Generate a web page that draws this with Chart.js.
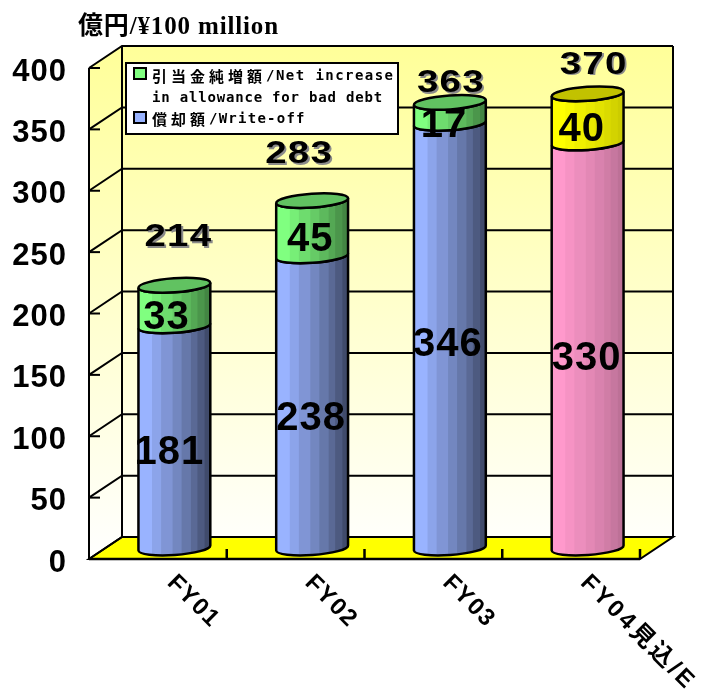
<!DOCTYPE html>
<html>
<head>
<meta charset="utf-8">
<style>
  html, body { margin: 0; padding: 0; background: #fff; overflow: hidden; }
  canvas { display: block; }
</style>
<script src="https://cdn.jsdelivr.net/npm/chart.js@4"></script>
</head>
<body>
<canvas id="chart" width="703" height="690"></canvas>
<script>
// values
const categories = ["FY01", "FY02", "FY03", "FY04見込/E"];
const writeOff = [181, 238, 346, 330];
const allowance = [33, 45, 17, 40];
const totals = [214, 283, 363, 370];
const writeOffColors = ["#99B3FF", "#99B3FF", "#99B3FF", "#FF99CC"];
const allowanceColors = ["#80FF80", "#80FF80", "#80FF80", "#FFFF00"];
const titleText = "億円/¥100 million";
const legendLines = ["引当金純増額/Net increase", "in allowance for bad debt", "償却額/Write-off"];
const legendLatinSpacing = [1.45, 0.81, 1.25];

// the fake 3d look
const depthX = 33, depthY = 22;
const ellipseRy = 7, tilt = -0.07;
const stripEdges = [0, .19, .316, .475, .6, .73, .82, .92, 1];
const darkest = { "#99B3FF": .42, "#80FF80": .52, "#FF99CC": .74, "#FFFF00": .8 };
const capShade = .76;

// hand placed labels, same as in the original (dx, dy from the segment or bar top)
const segmentNudgeLow = [[-5, 5], [-1, 6], [-2, -2], [-1, 3]];
const segmentNudgeHigh = [[-8, 1], [-2, 1], [-6, 2], [-6, 1]];
const totalNudge = [[4, -59], [-13, -57], [1, -30], [6, -40]];

function shade(hex, f) {
  const n = parseInt(hex.slice(1), 16);
  const c = [n >> 16, (n >> 8) & 255, n & 255].map(v => Math.round(v * f));
  return `rgb(${c[0]},${c[1]},${c[2]})`;
}

function bodyPath(ctx, x, top, bottom, r) {
  ctx.beginPath();
  ctx.ellipse(x, bottom, r, ellipseRy, tilt, Math.PI, 0, true);
  ctx.ellipse(x, top, r, ellipseRy, tilt, 0, Math.PI, false);
  ctx.closePath();
}

function drawSegment(ctx, el, color, isTop) {
  const x = el.x + depthX / 2, r = el.width / 2;
  const top = el.y - depthY / 2, bottom = el.base - depthY / 2;
  ctx.save();
  bodyPath(ctx, x, top, bottom, r);
  ctx.save();
  ctx.clip();
  // vertical strips fake the shading of the round side
  for (let i = 0; i < stripEdges.length - 1; i++) {
    const t = i / (stripEdges.length - 2);
    ctx.fillStyle = shade(color, 1 - t * (1 - darkest[color]));
    const x0 = x - r + stripEdges[i] * el.width;
    ctx.fillRect(x0, top - 20, (stripEdges[i + 1] - stripEdges[i]) * el.width + 1, bottom - top + 50);
  }
  ctx.restore();
  ctx.lineWidth = 2.5;
  ctx.strokeStyle = "#000";
  ctx.stroke();
  if (isTop) {
    ctx.beginPath();
    ctx.ellipse(x, top, r, ellipseRy, tilt, 0, Math.PI * 2);
    ctx.fillStyle = shade(color, capShade);
    ctx.fill();
    ctx.stroke();
  }
  ctx.restore();
}

// wide, stretched numbers like the ones in the original
function drawNumber(ctx, text, x, y, size, stretch, shadow) {
  ctx.save();
  ctx.translate(x, y);
  ctx.scale(stretch, 1);
  ctx.font = `bold ${size}px "Liberation Sans"`;
  ctx.textAlign = "center";
  ctx.textBaseline = "middle";
  ctx.letterSpacing = "1px";
  if (shadow) {
    ctx.fillStyle = "#8a8a8a";
    ctx.fillText(text, 1.5, 1.5);
  }
  ctx.fillStyle = "#000";
  ctx.fillText(text, 0, 0);
  ctx.restore();
}

const cylinderPlugin = {
  id: "cylinders",
  beforeDraw(chart) {
    // spreads the y tick numbers a little
    chart.ctx.letterSpacing = "1px";
  },
  beforeDatasetsDraw(chart) {
    const { ctx, chartArea: a, scales: { x, y } } = chart;
    const bx = a.left + depthX, by = -depthY;
    ctx.save();
    // back wall and side wall, pale yellow going to white
    const g = ctx.createLinearGradient(0, a.top + by, 0, a.bottom);
    g.addColorStop(0, "#FFFF99");
    g.addColorStop(1, "#FFFFFF");
    ctx.fillStyle = g;
    ctx.fillRect(bx, a.top + by, a.right - a.left, a.bottom - a.top);
    ctx.beginPath();
    ctx.moveTo(a.left, a.top);
    ctx.lineTo(bx, a.top + by);
    ctx.lineTo(bx, a.bottom + by);
    ctx.lineTo(a.left, a.bottom);
    ctx.closePath();
    ctx.fill();
    // floor
    ctx.beginPath();
    ctx.moveTo(a.left, a.bottom);
    ctx.lineTo(bx, a.bottom + by);
    ctx.lineTo(a.right + depthX, a.bottom + by);
    ctx.lineTo(a.right, a.bottom);
    ctx.closePath();
    ctx.fillStyle = "#FFFF00";
    ctx.fill();
    ctx.strokeStyle = "#000";
    ctx.lineWidth = 2;
    ctx.stroke();
    // gridlines run along the side wall then along the back wall
    y.ticks.forEach((t, i) => {
      const py = y.getPixelForTick(i);
      ctx.beginPath();
      ctx.moveTo(a.left, py);
      ctx.lineTo(bx, py + by);
      ctx.lineTo(a.right + depthX, py + by);
      ctx.stroke();
      ctx.beginPath();
      ctx.moveTo(a.left, py);
      ctx.lineTo(a.left + 11, py);
      ctx.stroke();
    });
    // wall edges
    ctx.beginPath();
    ctx.moveTo(a.left, a.bottom);
    ctx.lineTo(a.left, a.top);
    ctx.moveTo(bx, a.bottom + by);
    ctx.lineTo(bx, a.top + by);
    ctx.moveTo(a.right + depthX, a.bottom + by);
    ctx.lineTo(a.right + depthX, a.top + by);
    ctx.stroke();
    // floor front edge with its ticks
    ctx.lineWidth = 2.5;
    ctx.beginPath();
    ctx.moveTo(a.left, a.bottom);
    ctx.lineTo(a.right, a.bottom);
    const step = (a.right - a.left) / categories.length;
    categories.forEach((c, i) => {
      ctx.moveTo(x.getPixelForTick(i) + step / 2, a.bottom);
      ctx.lineTo(x.getPixelForTick(i) + step / 2, a.bottom - 10);
    });
    ctx.stroke();
    ctx.restore();
  },
  // the plain flat bars are replaced, their geometry is used below
  beforeDatasetDraw() {
    return false;
  },
  afterDatasetsDraw(chart) {
    const { ctx, scales: { x } } = chart;
    const low = chart.getDatasetMeta(0).data;
    const high = chart.getDatasetMeta(1).data;
    categories.forEach((c, i) => {
      drawSegment(ctx, low[i], writeOffColors[i], false);
      drawSegment(ctx, high[i], allowanceColors[i], true);
    });
    categories.forEach((c, i) => {
      const l = low[i], h = high[i];
      drawNumber(ctx, String(writeOff[i]), l.x + depthX / 2 + segmentNudgeLow[i][0],
        (l.y + l.base) / 2 + segmentNudgeLow[i][1], 40, 1, false);
      drawNumber(ctx, String(allowance[i]), h.x + depthX / 2 + segmentNudgeHigh[i][0],
        (h.y + h.base) / 2 + segmentNudgeHigh[i][1], 40, 1, false);
      drawNumber(ctx, String(totals[i]), h.x + depthX / 2 + totalNudge[i][0],
        h.y + totalNudge[i][1], 32, 1.2, true);
    });

    // category labels, slanting downwards
    ctx.save();
    ctx.fillStyle = "#000";
    ctx.font = 'bold 24px "Liberation Sans","Noto Sans CJK JP"';
    ctx.textBaseline = "middle";
    categories.forEach((c, i) => {
      ctx.save();
      ctx.letterSpacing = c.length > 4 ? "3px" : "1.5px";
      ctx.translate(x.getPixelForTick(i) + 13, 579);
      ctx.rotate(Math.PI / 4);
      ctx.fillText(c, 0, 0);
      ctx.restore();
    });
    ctx.restore();

    // title
    ctx.save();
    ctx.fillStyle = "#000";
    ctx.font = 'bold 25px "Liberation Serif","Noto Sans CJK JP"';
    ctx.letterSpacing = "0.85px";
    ctx.fillText(titleText, 78, 34);
    ctx.restore();

    drawLegend(ctx);
  }
};

// the legend font is monospaced: kanji on a 19px pitch, latin a bit under 10px
function drawLegendLine(ctx, text, x, y, latinSpacing) {
  text.match(/[^\x00-\x7f]+|[\x00-\x7f]+/g).forEach(run => {
    const wide = run.charCodeAt(0) > 127;
    ctx.font = wide ? 'bold 15px "Noto Sans CJK JP"' : 'bold 14px "DejaVu Sans Mono"';
    ctx.letterSpacing = (wide ? 4 : latinSpacing) + "px";
    ctx.fillText(run, x, y);
    x += run.length * (wide ? 19 : 8.43 + latinSpacing);
  });
}

function drawLegend(ctx) {
  ctx.save();
  ctx.fillStyle = "#fff";
  ctx.strokeStyle = "#000";
  ctx.lineWidth = 2;
  ctx.fillRect(126, 63, 272, 71);
  ctx.strokeRect(126, 63, 272, 71);
  [[writeOffColors[0], 112], [allowanceColors[0], 68]].forEach(s => {
    ctx.fillStyle = s[0];
    ctx.fillRect(134, s[1], 12, 11);
    ctx.strokeRect(134, s[1], 12, 11);
  });
  ctx.fillStyle = "#000";
  ctx.textBaseline = "middle";
  const ys = [76, 98, 119];
  legendLines.forEach((t, i) => drawLegendLine(ctx, t, 152, ys[i], legendLatinSpacing[i]));
  ctx.restore();
}

new Chart(document.getElementById("chart").getContext("2d"), {
  type: "bar",
  data: {
    labels: categories,
    datasets: [
      { label: "償却額/Write-off", data: writeOff, backgroundColor: writeOffColors },
      { label: "引当金純増額/Net increase in allowance for bad debt", data: allowance, backgroundColor: allowanceColors }
    ]
  },
  options: {
    responsive: false,
    animation: false,
    events: [],
    devicePixelRatio: 1,
    layout: { padding: { left: 0, right: 63, top: 68, bottom: 123 } },
    barPercentage: 0.523,
    categoryPercentage: 1,
    scales: {
      x: {
        stacked: true,
        grid: { display: false },
        border: { display: false },
        ticks: { display: false }
      },
      y: {
        stacked: true,
        min: 0,
        max: 400,
        afterFit(scale) { scale.width = 89; },
        grid: { display: false },
        border: { display: false },
        ticks: {
          stepSize: 50,
          padding: 14,
          labelOffset: 4,
          color: "#000",
          font: { family: '"Liberation Sans"', size: 31, weight: "bold" }
        }
      }
    },
    plugins: {
      legend: { display: false },
      title: { display: false },
      tooltip: { enabled: false }
    }
  },
  plugins: [cylinderPlugin]
});
</script>
</body>
</html>
